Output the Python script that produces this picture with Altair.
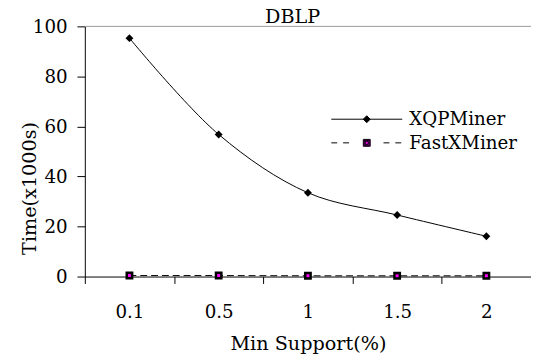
import altair as alt
import pandas as pd

support = ["0.1", "0.5", "1", "1.5", "2"]
xqp_values = [95.3, 56.8, 33.5, 24.6, 16.1]
fast_values = [0.4, 0.4, 0.3, 0.3, 0.3]
series_names = ["XQPMiner", "FastXMiner"]
y_ticks = [0, 20, 40, 60, 80, 100]
chart_title = ["DBLP"]

df = pd.DataFrame({
    "support": support * 2,
    "time": xqp_values + fast_values,
    "series": [series_names[0]] * len(support) + [series_names[1]] * len(support),
})

FONT = "DejaVu Serif"
TICK_FS = 18.5
TITLE_FS = 19.5

xenc = alt.X(
    "support:N", sort=support,
    scale=alt.Scale(type="band", paddingInner=0, paddingOuter=0),
    axis=alt.Axis(title="Min Support(%)", labelAngle=0, tickBand="extent", tickSize=7,
                  labelPadding=20, titlePadding=14, grid=False),
)
yenc = alt.Y(
    "time:Q", scale=alt.Scale(domain=[0, 100], nice=False, zero=True),
    axis=alt.Axis(values=y_ticks, title="Time(x1000s)", tickSize=8, labelPadding=10,
                  titleX=-46, titleY=164, grid=False),
)

base = alt.Chart(df)

line_x = base.transform_filter(alt.datum.series == series_names[0]).mark_line(
    color="black", strokeWidth=1, interpolate="catmull-rom").encode(x=xenc, y=yenc)
line_f = base.transform_filter(alt.datum.series == series_names[1]).mark_line(
    color="black", strokeWidth=1, strokeDash=[7, 4]).encode(x=xenc, y=yenc)
pts_x = base.transform_filter(alt.datum.series == series_names[0]).mark_point(
    shape="diamond", filled=True, color="black", size=64, opacity=1).encode(x=xenc, y=yenc)
pts_f = base.transform_filter(alt.datum.series == series_names[1]).mark_point(
    shape="square", filled=True, fill="#ff00ff", stroke="black", strokeWidth=2.5,
    size=30, opacity=1).encode(x=xenc, y=yenc)

top_rule = alt.Chart(pd.DataFrame({"v": [100]})).mark_rule(
    color="#999999", strokeWidth=1).encode(y=alt.Y("v:Q"))

# legend symbols: line + marker, drawn relative to the symbol centre
path_x = "M-68,0L4,0M-32,-3.5L-28.5,0L-32,3.5L-35.5,0Z"
path_f = ("M-68,0L-62,0M-56,0L-50,0M-15,0L-9,0M-3,0L3,0"
          "M-35.5,-3.5L-28.5,-3.5L-28.5,3.5L-35.5,3.5Z"
          "M-34.5,-2.5L-29.5,-2.5L-29.5,2.5L-34.5,2.5Z"
          "M-33.5,-1.5L-30.5,-1.5L-30.5,1.5L-33.5,1.5Z")

leg = dict(orient="none", legendX=309, legendY=85, title=None, labelFont=FONT,
           labelFontSize=TICK_FS, labelColor="black", labelLimit=0, symbolSize=4,
           symbolStrokeWidth=1, rowPadding=5, padding=0, labelOffset=2)

legend_layer = base.transform_filter("false").mark_point(filled=True, opacity=1).encode(
    shape=alt.Shape("series:N", scale=alt.Scale(domain=series_names, range=[path_x, path_f]),
                    legend=alt.Legend(**leg)),
    fill=alt.Fill("series:N", scale=alt.Scale(domain=series_names, range=["black", "#ff00ff"]),
                  legend=alt.Legend(**leg)),
    stroke=alt.Stroke("series:N", scale=alt.Scale(domain=series_names, range=["black", "black"]),
                      legend=alt.Legend(**leg)),
)

title_text = alt.Chart(pd.DataFrame({"t": chart_title})).mark_text(
    font=FONT, fontSize=TITLE_FS, color="black", baseline="alphabetic", align="center"
).encode(text="t:N", x=alt.value(211), y=alt.value(-3))

chart = alt.layer(top_rule, line_f, line_x, pts_f, pts_x, legend_layer, title_text).properties(
    width=453, height=254,
    padding={"left": 78, "top": 16, "right": 0, "bottom": 78},
    autosize=alt.AutoSizeParams(type="none"),
).configure_view(stroke=None).configure_axis(
    labelFont=FONT, labelFontSize=TICK_FS, labelColor="black",
    titleFont=FONT, titleFontSize=TITLE_FS, titleFontWeight="normal", titleColor="black",
    domainColor="black", tickColor="black", domainWidth=1, tickWidth=1,
)

chart.save("out.html", embed_options={"renderer": "svg", "actions": False})
